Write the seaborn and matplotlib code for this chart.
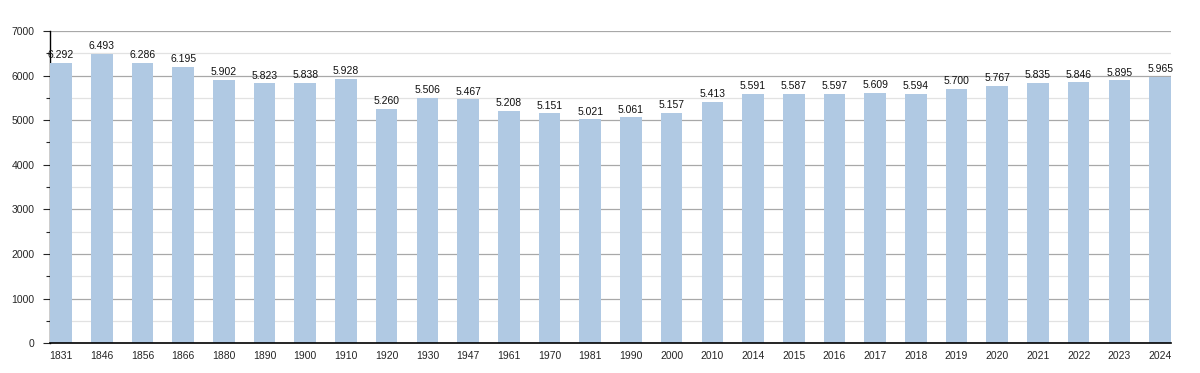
import matplotlib
matplotlib.use("Agg")
import matplotlib.pyplot as plt
import pandas as pd
import seaborn as sns
from matplotlib.ticker import MultipleLocator

anni = ["1831", "1846", "1856", "1866", "1880", "1890", "1900", "1910", "1920", "1930",
        "1947", "1961", "1970", "1981", "1990", "2000", "2010", "2014", "2015", "2016",
        "2017", "2018", "2019", "2020", "2021", "2022", "2023", "2024"]
abitanti = [6292, 6493, 6286, 6195, 5902, 5823, 5838, 5928, 5260, 5506,
            5467, 5208, 5151, 5021, 5061, 5157, 5413, 5591, 5587, 5597,
            5609, 5594, 5700, 5767, 5835, 5846, 5895, 5965]

df = pd.DataFrame({"anno": anni, "abitanti": abitanti})

sns.set_style("white")
plt.rcParams["font.family"] = ["Liberation Sans", "DejaVu Sans"]

fig = plt.figure(figsize=(12, 3.73), dpi=100)
ax = fig.add_axes([0.0417, 0.080, 0.9342, 0.837])

sns.barplot(data=df, x="anno", y="abitanti", color="#b0c9e3", saturation=1,
            width=0.53, linewidth=0, ax=ax, zorder=3)

for i, v in enumerate(abitanti):
    etichetta = f"{v:,}".replace(",", ".")
    ax.text(i, v + 60, etichetta, ha="center", va="bottom", fontsize=7.5, color="#111111", zorder=4)

ax.set_ylim(0, 7000)
ax.set_xlim(-0.27, len(anni) - 0.73)
ax.yaxis.set_major_locator(MultipleLocator(1000))
ax.yaxis.set_minor_locator(MultipleLocator(500))
ax.grid(axis="y", which="major", color="#a8a8a8", linewidth=0.9, zorder=0)
ax.grid(axis="y", which="minor", color="#e2e2e2", linewidth=0.9, zorder=0)
ax.set_axisbelow(True)

for s in ["top", "right"]:
    ax.spines[s].set_visible(False)
ax.spines["left"].set_color("black")
ax.spines["bottom"].set_color("black")
ax.spines["left"].set_linewidth(1)
ax.spines["bottom"].set_linewidth(1.2)
ax.spines["bottom"].set_zorder(5)

ax.tick_params(axis="y", which="major", left=True, length=5, width=0.8, labelsize=7.5, pad=6)
ax.tick_params(axis="y", which="minor", left=True, length=3, width=0.8)
ax.tick_params(axis="x", bottom=False, labelsize=7.5, pad=2)
ax.set_xlabel("")
ax.set_ylabel("")

fig.savefig("out.png", dpi=100)
